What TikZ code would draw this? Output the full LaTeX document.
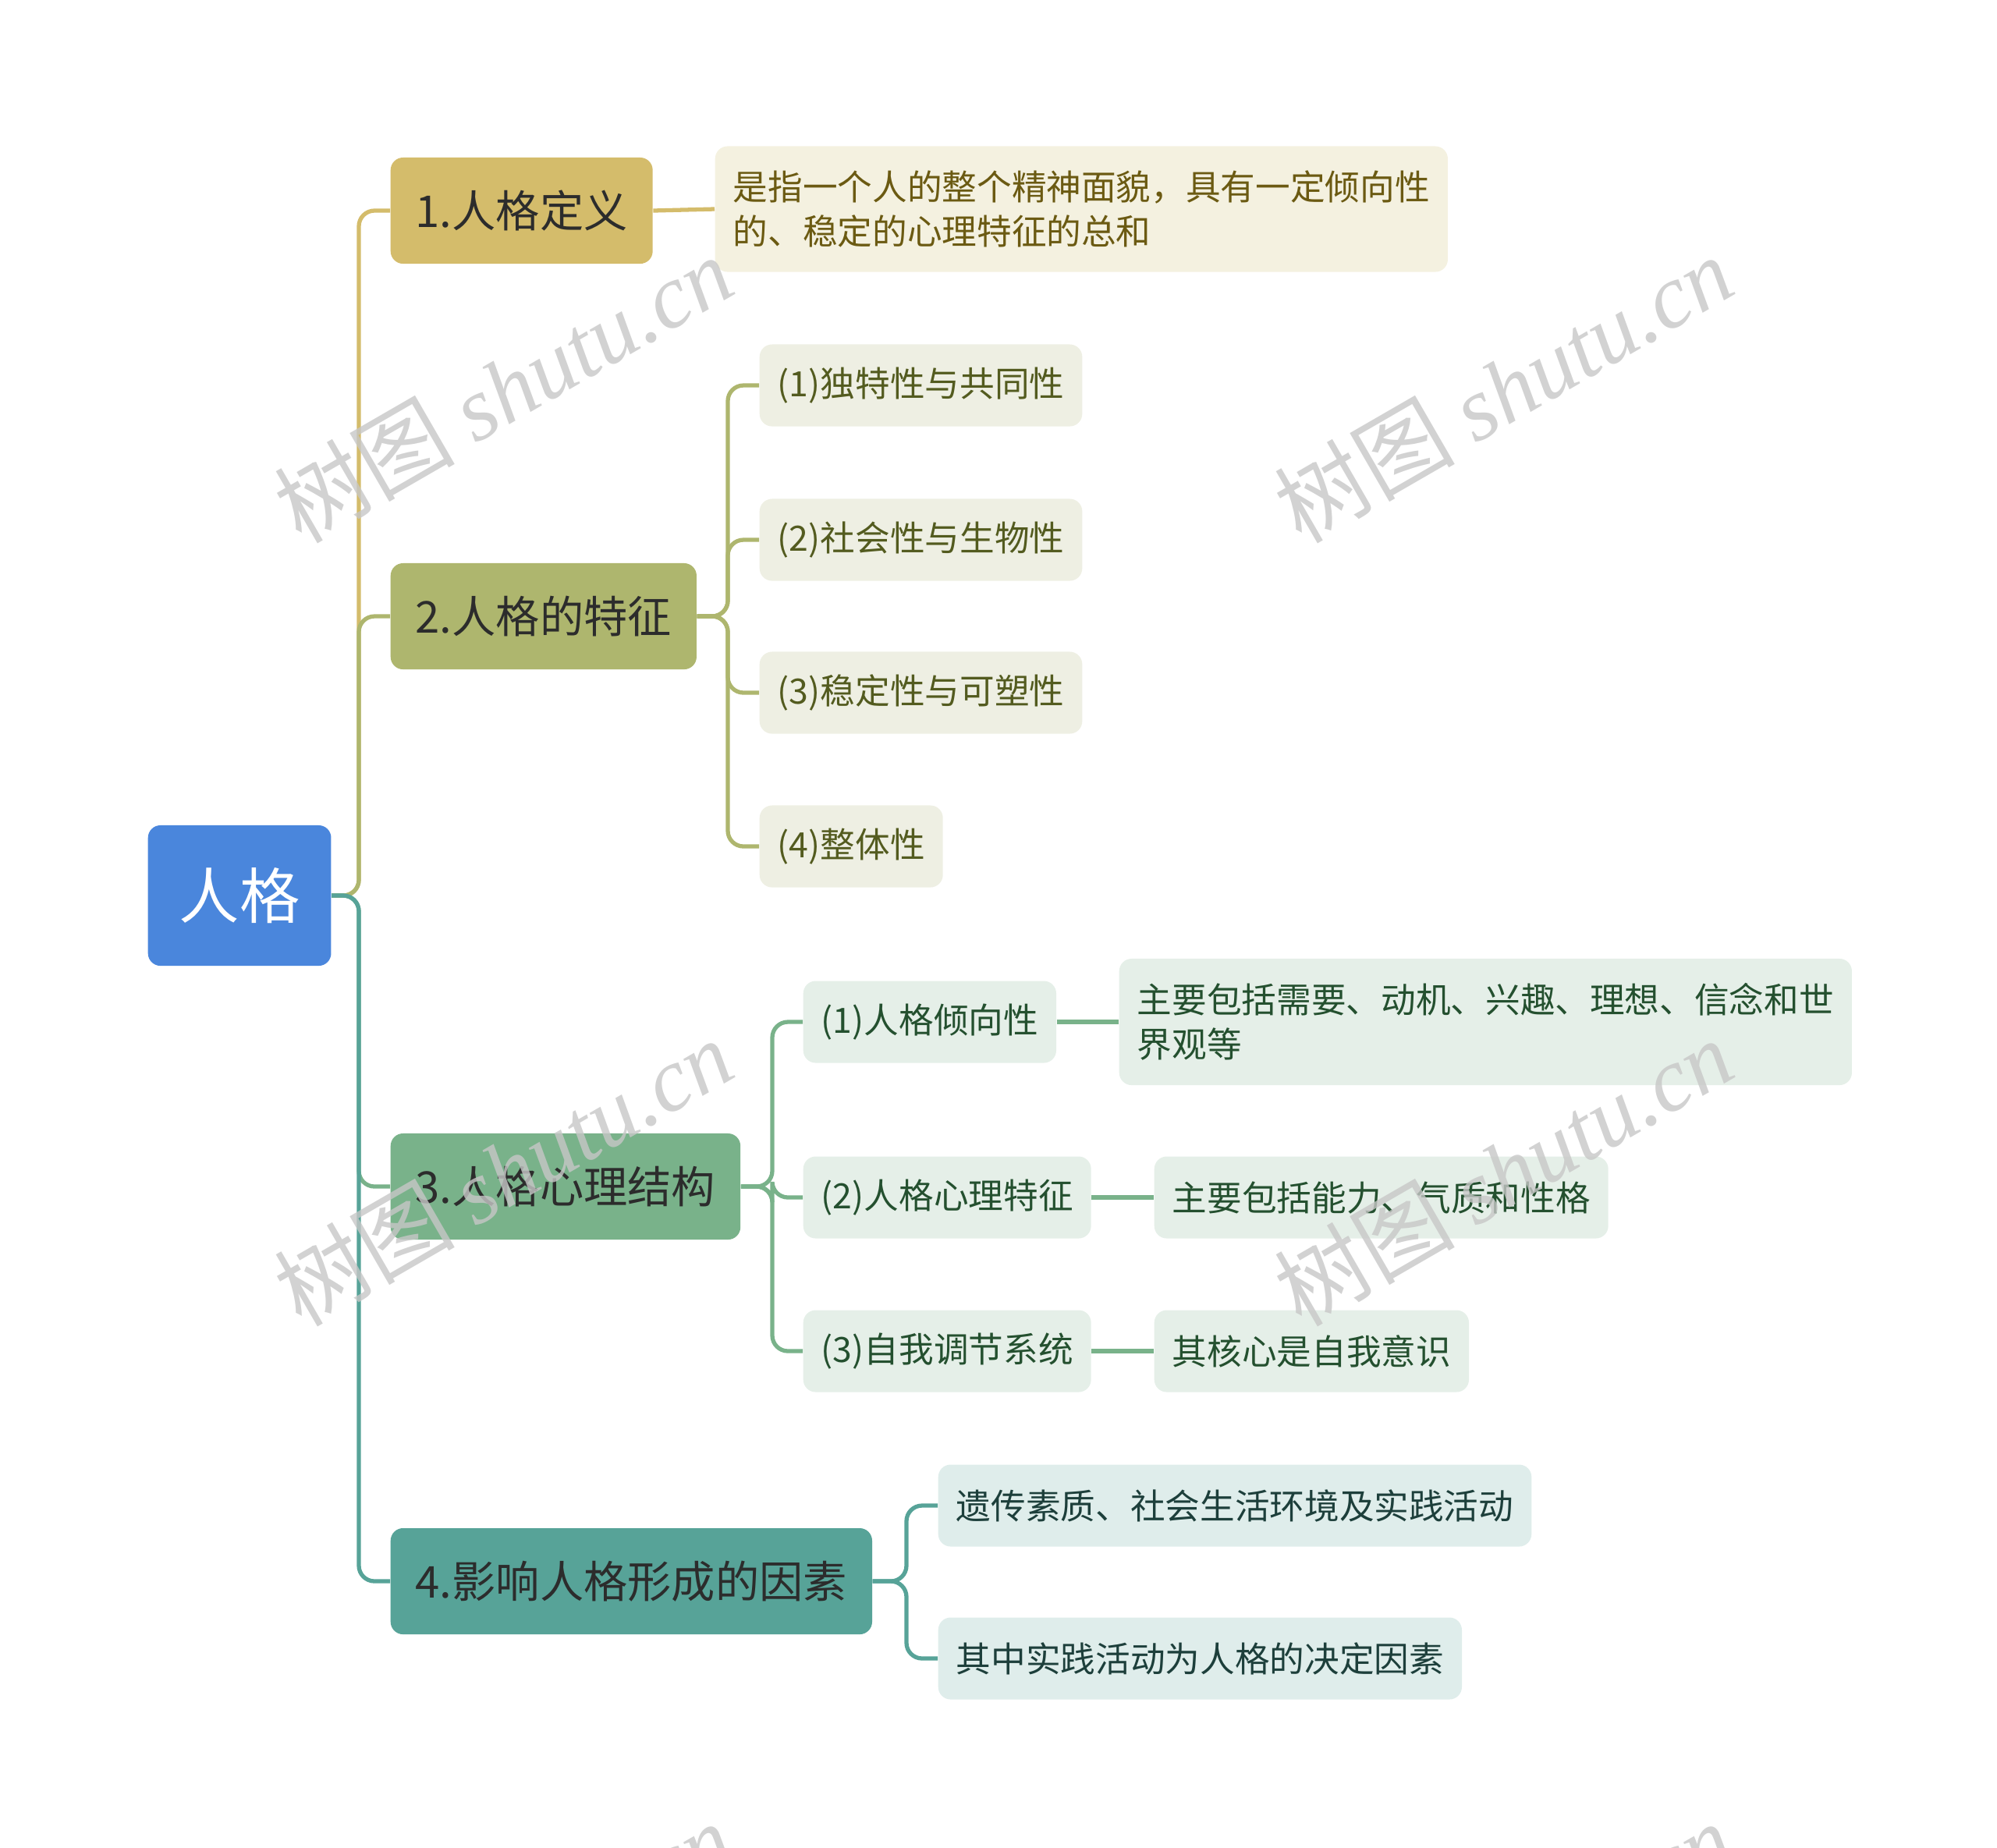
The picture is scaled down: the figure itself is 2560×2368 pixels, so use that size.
\documentclass[tikz,border=0pt]{standalone}
\usepackage{fontspec}
\setmainfont{Noto Sans CJK SC}
\newfontfamily\markfont{Liberation Serif}
\usetikzlibrary{positioning}

\definecolor{rootblue}{HTML}{4A86DC}
\definecolor{goldc}{HTML}{D4BC6B}
\definecolor{goldfill}{HTML}{F4F1E0}
\definecolor{goldtext}{HTML}{6B5A12}
\definecolor{olivec}{HTML}{AEB66E}
\definecolor{olivefill}{HTML}{EEEFE3}
\definecolor{olivetext}{HTML}{535B1F}
\definecolor{greenc}{HTML}{79B28A}
\definecolor{greenfill}{HTML}{E5EFE8}
\definecolor{greentext}{HTML}{24502F}
\definecolor{tealc}{HTML}{57A398}
\definecolor{tealfill}{HTML}{DFEDEB}
\definecolor{tealtext}{HTML}{1D3F3B}
\definecolor{maintext}{HTML}{2C2C2C}

\begin{document}
\begin{tikzpicture}[
    x=0.01cm,y=-0.01cm,
    root/.style={rectangle, rounded corners=0.16cm, fill=rootblue, text=white, anchor=west, minimum height=1.8cm, inner xsep=0.4cm, font=\fontsize{22}{26}\selectfont},
    topic/.style={rectangle, rounded corners=0.16cm, text=maintext, anchor=west, minimum height=1.36cm, inner xsep=0.32cm, font=\fontsize{16}{19}\selectfont},
    leaf/.style={rectangle, rounded corners=0.16cm, anchor=west, minimum height=1.05cm, inner xsep=0.23cm, align=left, font=\fontsize{12.7}{16.2}\selectfont},
    branch/.style={line width=1.5pt, rounded corners=0.2cm},
    watermark/.style={text=black!22, opacity=0.8, rotate=30, font=\fontsize{33}{36}\selectfont}
]
    \useasboundingbox (0,0) rectangle (2560,2368);
    \clip (0,0) rectangle (2560,2368);

    % ================= ROOT =================
    \node[root] (ROOT) at (189,1148) {人格};
    \coordinate (trunk) at (460,1148);

    % ================= MAIN TOPICS =================
    \node[topic, fill=goldc] (DEF) at (500,270) {1.人格定义};
    \node[topic, fill=olivec] (FEAT) at (500,790) {2.人格的特征};
    \node[topic, fill=greenc] (STRUCT) at (500,1521) {3.人格心理结构};
    \node[topic, fill=tealc] (FACT) at (500,2027) {4.影响人格形成的因素};

    \draw[branch, goldc] (ROOT.east) -- (trunk) |- (DEF.west);
    \draw[branch, olivec] (ROOT.east) -- (trunk) |- (FEAT.west);
    \draw[branch, greenc] (ROOT.east) -- (trunk) |- (STRUCT.west);
    \draw[branch, tealc] (ROOT.east) -- (trunk) |- (FACT.west);

    % ================= 1. DEFINITION =================
    \node[leaf, fill=goldfill, text=goldtext, minimum height=1.61cm] (def_txt) at (916,268) {是指一个人的整个精神面貌，具有一定倾向性\\的、稳定的心理特征的总和};
    \draw[branch, goldc] (DEF.east) -- (def_txt.west);

    % ================= 2. FEATURES =================
    \node[leaf, fill=olivefill, text=olivetext] (f_one) at (973,494) {(1)独特性与共同性};
    \node[leaf, fill=olivefill, text=olivetext] (f_two) at (973,692) {(2)社会性与生物性};
    \node[leaf, fill=olivefill, text=olivetext] (f_three) at (973,888) {(3)稳定性与可塑性};
    \node[leaf, fill=olivefill, text=olivetext] (f_four) at (973,1085) {(4)整体性};
    \coordinate (f_join) at (933,790);

    \draw[branch, olivec] (FEAT.east) -- (f_join) |- (f_one.west);
    \draw[branch, olivec] (FEAT.east) -- (f_join) |- (f_two.west);
    \draw[branch, olivec] (FEAT.east) -- (f_join) |- (f_three.west);
    \draw[branch, olivec] (FEAT.east) -- (f_join) |- (f_four.west);

    % ================= 3. STRUCTURE =================
    \node[leaf, fill=greenfill, text=greentext] (s_one) at (1029,1310) {(1)人格倾向性};
    \node[leaf, fill=greenfill, text=greentext] (s_two) at (1029,1535) {(2)人格心理特征};
    \node[leaf, fill=greenfill, text=greentext] (s_three) at (1029,1732) {(3)自我调节系统};
    \coordinate (s_join) at (990,1521);

    \draw[branch, greenc] (STRUCT.east) -- (s_join) |- (s_one.west);
    \draw[branch, greenc] (STRUCT.east) -- (s_join) |- (s_two.west);
    \draw[branch, greenc] (STRUCT.east) -- (s_join) |- (s_three.west);

    \node[leaf, fill=greenfill, text=greentext, minimum height=1.62cm] (s_one_d) at (1434,1310) {主要包括需要、动机、兴趣、理想、信念和世\\界观等};
    \node[leaf, fill=greenfill, text=greentext] (s_two_d) at (1479,1535) {主要包括能力、气质和性格};
    \node[leaf, fill=greenfill, text=greentext] (s_three_d) at (1479,1732) {其核心是自我意识};

    \draw[branch, greenc] (s_one.east) -- (s_one_d.west);
    \draw[branch, greenc] (s_two.east) -- (s_two_d.west);
    \draw[branch, greenc] (s_three.east) -- (s_three_d.west);

    % ================= 4. FACTORS =================
    \node[leaf, fill=tealfill, text=tealtext] (x_one) at (1202,1930) {遗传素质、社会生活环境及实践活动};
    \node[leaf, fill=tealfill, text=tealtext] (x_two) at (1202,2126) {其中实践活动为人格的决定因素};
    \coordinate (x_join) at (1162,2027);

    \draw[branch, tealc] (FACT.east) -- (x_join) |- (x_one.west);
    \draw[branch, tealc] (FACT.east) -- (x_join) |- (x_two.west);

    % ================= WATERMARKS =================
    \foreach \mx/\my [count=\k] in {645/498, 1927/498, 645/1502, 1927/1502, 645/2506, 1927/2506}
        \node[watermark] (wm\k) at (\mx,\my) {树图 {\markfont\itshape shutu.cn}};

\end{tikzpicture}
\end{document}
